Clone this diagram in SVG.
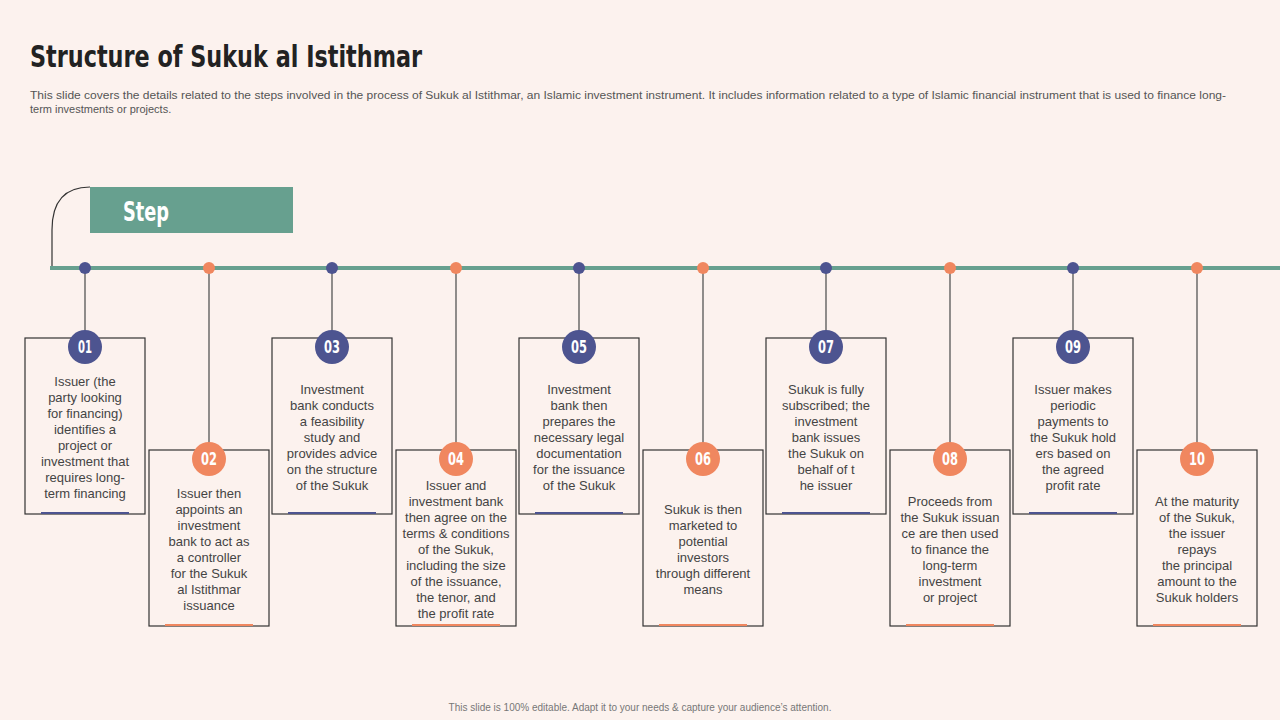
<svg xmlns="http://www.w3.org/2000/svg" width="1280" height="720" viewBox="0 0 1280 720">
<style>
.t{font-family:"Liberation Sans",Arial,sans-serif;font-size:13px;fill:#444;text-anchor:middle}
.box{fill:#FCF2EE;stroke:#333;stroke-width:1.2}
.num{font-family:"DejaVu Sans Condensed","DejaVu Sans",sans-serif;font-weight:bold;font-size:17px;fill:#fff;text-anchor:middle}
.conn{stroke:#555;stroke-width:1.3}
.b{fill:#4D5490}.o{fill:#F0875F}
</style>
<rect width="1280" height="720" fill="#FCF2EE"/>
<text x="30" y="67" font-family="'DejaVu Sans Condensed','DejaVu Sans',sans-serif" font-weight="bold" font-size="30" fill="#222" textLength="392" lengthAdjust="spacingAndGlyphs">Structure of Sukuk al Istithmar</text>
<text font-family="'Liberation Sans',Arial,sans-serif" font-size="11" fill="#555"><tspan x="30" y="99" textLength="1196" lengthAdjust="spacingAndGlyphs">This slide covers the details related to the steps involved in the process of Sukuk al Istithmar, an Islamic investment instrument. It includes information related to a type of Islamic financial instrument that is used to finance long-</tspan><tspan x="30" y="113">term investments or projects.</tspan></text>
<g id="header">
<path d="M90 187 Q52 187 52 230 L52 268" fill="none" stroke="#333" stroke-width="1.2"/>
<rect x="90" y="187" width="203" height="46" fill="#67A08F"/>
<text x="123" y="221" font-family="'DejaVu Sans Condensed','DejaVu Sans',sans-serif" font-weight="bold" font-size="27" fill="#fff" textLength="46" lengthAdjust="spacingAndGlyphs">Step</text>
</g>
<g id="connectors">
<line x1="50" y1="268" x2="1280" y2="268" stroke="#67A08F" stroke-width="4"/>
<line class="conn" x1="85" y1="268" x2="85" y2="338"/>
<line class="conn" x1="209" y1="268" x2="209" y2="450"/>
<line class="conn" x1="332" y1="268" x2="332" y2="338"/>
<line class="conn" x1="456" y1="268" x2="456" y2="450"/>
<line class="conn" x1="579" y1="268" x2="579" y2="338"/>
<line class="conn" x1="703" y1="268" x2="703" y2="450"/>
<line class="conn" x1="826" y1="268" x2="826" y2="338"/>
<line class="conn" x1="950" y1="268" x2="950" y2="450"/>
<line class="conn" x1="1073" y1="268" x2="1073" y2="338"/>
<line class="conn" x1="1197" y1="268" x2="1197" y2="450"/>
<circle class="b" cx="85" cy="268" r="6"/><circle class="o" cx="209" cy="268" r="6"/>
<circle class="b" cx="332" cy="268" r="6"/><circle class="o" cx="456" cy="268" r="6"/>
<circle class="b" cx="579" cy="268" r="6"/><circle class="o" cx="703" cy="268" r="6"/>
<circle class="b" cx="826" cy="268" r="6"/><circle class="o" cx="950" cy="268" r="6"/>
<circle class="b" cx="1073" cy="268" r="6"/><circle class="o" cx="1197" cy="268" r="6"/>
</g>
<g id="step01"><rect class="box" x="25" y="338" width="120" height="176"/><rect class="b" x="41" y="512" width="88" height="2"/><circle class="b" cx="85" cy="347" r="17"/><text class="num" x="85" y="353" textLength="14" lengthAdjust="spacingAndGlyphs">01</text>
<text class="t"><tspan x="85" y="386">Issuer (the</tspan><tspan x="85" y="402">party looking</tspan><tspan x="85" y="418">for financing)</tspan><tspan x="85" y="434">identifies a</tspan><tspan x="85" y="450">project or</tspan><tspan x="85" y="466">investment that</tspan><tspan x="85" y="482">requires long-</tspan><tspan x="85" y="498">term financing</tspan></text></g>
<g id="step02"><rect class="box" x="149" y="450" width="120" height="176"/><rect class="o" x="165" y="624" width="88" height="2"/><circle class="o" cx="209" cy="459" r="17"/><text class="num" x="209" y="465" textLength="16" lengthAdjust="spacingAndGlyphs">02</text>
<text class="t"><tspan x="209" y="498">Issuer then</tspan><tspan x="209" y="514">appoints an</tspan><tspan x="209" y="530">investment</tspan><tspan x="209" y="546">bank to act as</tspan><tspan x="209" y="562">a controller</tspan><tspan x="209" y="578">for the Sukuk</tspan><tspan x="209" y="594">al Istithmar</tspan><tspan x="209" y="610">issuance</tspan></text></g>
<g id="step03"><rect class="box" x="272" y="338" width="120" height="176"/><rect class="b" x="288" y="512" width="88" height="2"/><circle class="b" cx="332" cy="347" r="17"/><text class="num" x="332" y="353" textLength="16" lengthAdjust="spacingAndGlyphs">03</text>
<text class="t"><tspan x="332" y="394">Investment</tspan><tspan x="332" y="410">bank conducts</tspan><tspan x="332" y="426">a feasibility</tspan><tspan x="332" y="442">study and</tspan><tspan x="332" y="458">provides advice</tspan><tspan x="332" y="474">on the structure</tspan><tspan x="332" y="490">of the Sukuk</tspan></text></g>
<g id="step04"><rect class="box" x="396" y="450" width="120" height="176"/><rect class="o" x="412" y="624" width="88" height="2"/><circle class="o" cx="456" cy="459" r="17"/><text class="num" x="456" y="465" textLength="16" lengthAdjust="spacingAndGlyphs">04</text>
<text class="t"><tspan x="456" y="490">Issuer and</tspan><tspan x="456" y="506">investment bank</tspan><tspan x="456" y="522">then agree on the</tspan><tspan x="456" y="538">terms &amp; conditions</tspan><tspan x="456" y="554">of the Sukuk,</tspan><tspan x="456" y="570">including the size</tspan><tspan x="456" y="586">of the issuance,</tspan><tspan x="456" y="602">the tenor, and</tspan><tspan x="456" y="618">the profit rate</tspan></text></g>
<g id="step05"><rect class="box" x="519" y="338" width="120" height="176"/><rect class="b" x="535" y="512" width="88" height="2"/><circle class="b" cx="579" cy="347" r="17"/><text class="num" x="579" y="353" textLength="16" lengthAdjust="spacingAndGlyphs">05</text>
<text class="t"><tspan x="579" y="394">Investment</tspan><tspan x="579" y="410">bank then</tspan><tspan x="579" y="426">prepares the</tspan><tspan x="579" y="442">necessary legal</tspan><tspan x="579" y="458">documentation</tspan><tspan x="579" y="474">for the issuance</tspan><tspan x="579" y="490">of the Sukuk</tspan></text></g>
<g id="step06"><rect class="box" x="643" y="450" width="120" height="176"/><rect class="o" x="659" y="624" width="88" height="2"/><circle class="o" cx="703" cy="459" r="17"/><text class="num" x="703" y="465" textLength="16" lengthAdjust="spacingAndGlyphs">06</text>
<text class="t"><tspan x="703" y="514">Sukuk is then</tspan><tspan x="703" y="530">marketed to</tspan><tspan x="703" y="546">potential</tspan><tspan x="703" y="562">investors</tspan><tspan x="703" y="578">through different</tspan><tspan x="703" y="594">means</tspan></text></g>
<g id="step07"><rect class="box" x="766" y="338" width="120" height="176"/><rect class="b" x="782" y="512" width="88" height="2"/><circle class="b" cx="826" cy="347" r="17"/><text class="num" x="826" y="353" textLength="16" lengthAdjust="spacingAndGlyphs">07</text>
<text class="t"><tspan x="826" y="394">Sukuk is fully</tspan><tspan x="826" y="410">subscribed; the</tspan><tspan x="826" y="426">investment</tspan><tspan x="826" y="442">bank issues</tspan><tspan x="826" y="458">the Sukuk on</tspan><tspan x="826" y="474">behalf of t</tspan><tspan x="826" y="490">he issuer</tspan></text></g>
<g id="step08"><rect class="box" x="890" y="450" width="120" height="176"/><rect class="o" x="906" y="624" width="88" height="2"/><circle class="o" cx="950" cy="459" r="17"/><text class="num" x="950" y="465" textLength="16" lengthAdjust="spacingAndGlyphs">08</text>
<text class="t"><tspan x="950" y="506">Proceeds from</tspan><tspan x="950" y="522">the Sukuk issuan</tspan><tspan x="950" y="538">ce are then used</tspan><tspan x="950" y="554">to finance the</tspan><tspan x="950" y="570">long-term</tspan><tspan x="950" y="586">investment</tspan><tspan x="950" y="602">or project</tspan></text></g>
<g id="step09"><rect class="box" x="1013" y="338" width="120" height="176"/><rect class="b" x="1029" y="512" width="88" height="2"/><circle class="b" cx="1073" cy="347" r="17"/><text class="num" x="1073" y="353" textLength="16" lengthAdjust="spacingAndGlyphs">09</text>
<text class="t"><tspan x="1073" y="394">Issuer makes</tspan><tspan x="1073" y="410">periodic</tspan><tspan x="1073" y="426">payments to</tspan><tspan x="1073" y="442">the Sukuk hold</tspan><tspan x="1073" y="458">ers based on</tspan><tspan x="1073" y="474">the agreed</tspan><tspan x="1073" y="490">profit rate</tspan></text></g>
<g id="step10"><rect class="box" x="1137" y="450" width="120" height="176"/><rect class="o" x="1153" y="624" width="88" height="2"/><circle class="o" cx="1197" cy="459" r="17"/><text class="num" x="1197" y="465" textLength="16" lengthAdjust="spacingAndGlyphs">10</text>
<text class="t"><tspan x="1197" y="506">At the maturity</tspan><tspan x="1197" y="522">of the Sukuk,</tspan><tspan x="1197" y="538">the issuer</tspan><tspan x="1197" y="554">repays</tspan><tspan x="1197" y="570">the principal</tspan><tspan x="1197" y="586">amount to the</tspan><tspan x="1197" y="602">Sukuk holders</tspan></text></g>
<text x="640" y="711" text-anchor="middle" font-family="'Liberation Sans',Arial,sans-serif" font-size="10" fill="#777">This slide is 100% editable. Adapt it to your needs &amp; capture your audience’s attention.</text>
</svg>
